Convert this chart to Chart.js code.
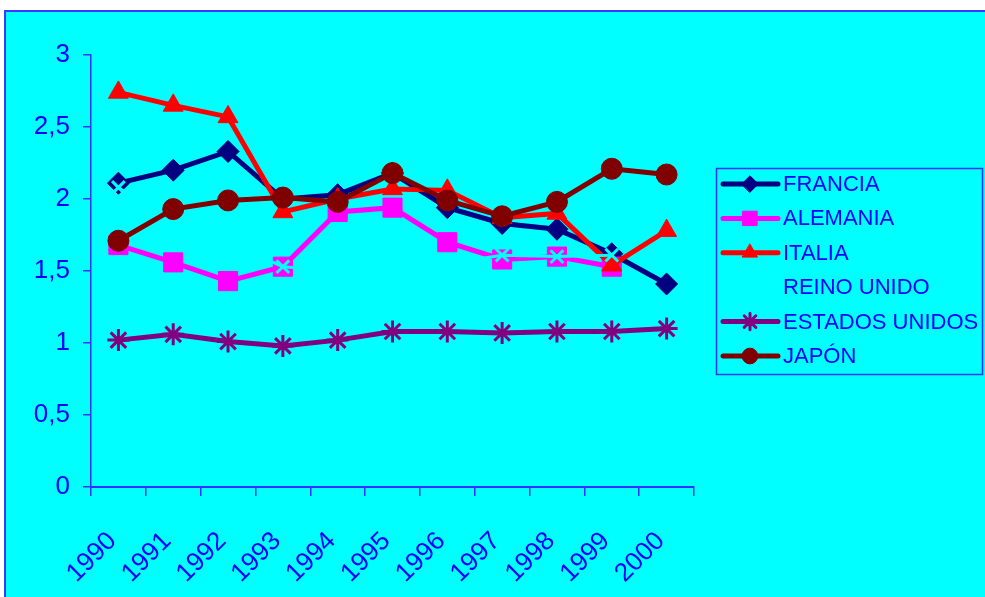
<!DOCTYPE html>
<html>
<head>
<meta charset="utf-8">
<script src="https://cdn.jsdelivr.net/npm/chart.js@4/dist/chart.umd.min.js"></script>
<style>
  html, body { margin: 0; padding: 0; background: #ffffff; }
  #wrap { width: 985px; height: 597px; }
</style>
</head>
<body>
<div id="wrap"><canvas id="c" width="985" height="597"></canvas></div>
<script>
// Years on the category axis
const years = ['1990','1991','1992','1993','1994','1995','1996','1997','1998','1999','2000'];

// Series values
const francia       = [2.11, 2.20, 2.33, 2.00, 2.03, 2.18, 1.94, 1.83, 1.79, 1.62, 1.41];
const alemania      = [1.68, 1.56, 1.43, 1.53, 1.91, 1.94, 1.70, 1.58, 1.60, 1.53, null];
const italia        = [2.74, 2.65, 2.57, 1.91, 2.00, 2.07, 2.06, 1.87, 1.90, 1.54, 1.78];
const reinoUnido    = [2.08, 1.82, 1.70, 1.53, 1.50, 1.52, 1.55, 1.61, 1.60, 1.61, null];
const estadosUnidos = [1.02, 1.06, 1.01, 0.98, 1.02, 1.08, 1.08, 1.07, 1.08, 1.08, 1.10];
const japon         = [1.71, 1.93, 1.99, 2.01, 1.98, 2.18, 1.99, 1.88, 1.98, 2.21, 2.17];

// Value axis ticks
const yTicks = [0, 0.5, 1, 1.5, 2, 2.5, 3];

const TEXT = '#0000ff';
const AXIS = '#3333ff';
const BG = '#00ffff';
const FONT = '"Liberation Sans", Arial, sans-serif';

function series(label, data, color, style, radius, order, bw) {
  return {
    label, data,
    borderColor: color,
    backgroundColor: color,
    borderWidth: 5,
    pointStyle: style,
    pointRadius: radius,
    pointHoverRadius: radius,
    pointBorderWidth: bw,
    pointBackgroundColor: color,
    pointBorderColor: color,
    tension: 0,
    spanGaps: false,
    order
  };
}

const datasets = [
  series('FRANCIA', francia, '#000080', 'rectRot', 11, 5, 1),
  series('ALEMANIA', alemania, '#ff00ff', 'rect', 13.5, 4, 1),
  series('ITALIA', italia, '#ff0000', 'triangle', 11.5, 3, 1),
  series('REINO UNIDO', reinoUnido, BG, 'crossRot', 9, 2, 3),
  series('ESTADOS UNIDOS', estadosUnidos, '#800080', 'star', 11, 1, 3),
  series('JAPÓN', japon, '#800000', 'circle', 10.5, 0, 1)
];
datasets[3].borderWidth = 3;

// Cyan sheet with a blue frame behind the plot
const frame = {
  id: 'frame',
  beforeDraw(chart) {
    const ctx = chart.ctx;
    ctx.save();
    ctx.fillStyle = '#ffffff';
    ctx.fillRect(0, 0, chart.width, chart.height);
    ctx.fillStyle = BG;
    ctx.fillRect(5, 11, chart.width, chart.height);
    ctx.fillStyle = '#3a3aff';
    ctx.fillRect(4, 10, 2, chart.height);
    ctx.fillRect(4, 10, chart.width, 2);
    ctx.restore();
  }
};

// Boxed legend with line samples on the right
const boxedLegend = {
  id: 'boxedLegend',
  afterDraw(chart) {
    const ctx = chart.ctx;
    const box = { x: 716, y: 168, w: 266, h: 206 };
    ctx.save();
    ctx.strokeStyle = AXIS;
    ctx.lineWidth = 1.5;
    ctx.strokeRect(box.x + 0.5, box.y + 0.5, box.w, box.h);
    const rowY0 = 184, rowStep = 34.4;
    chart.data.datasets.forEach((ds, i) => {
      const y = rowY0 + i * rowStep;
      ctx.strokeStyle = ds.borderColor;
      ctx.lineWidth = 5;
      ctx.lineCap = 'round';
      ctx.beginPath();
      ctx.moveTo(723, y);
      ctx.lineTo(778, y);
      ctx.stroke();
      ctx.fillStyle = ds.pointBackgroundColor;
      ctx.strokeStyle = ds.pointBorderColor;
      ctx.lineWidth = ds.pointBorderWidth;
      Chart.helpers.drawPoint(ctx, {
        pointStyle: ds.pointStyle,
        rotation: 0,
        radius: ds.pointRadius * 0.75,
        borderWidth: ds.pointBorderWidth
      }, 750, y);
      ctx.fillStyle = TEXT;
      ctx.font = '22px ' + FONT;
      ctx.textAlign = 'left';
      ctx.textBaseline = 'middle';
      ctx.fillText(ds.label, 783, y + 1);
    });
    ctx.restore();
  }
};

new Chart(document.getElementById('c'), {
  type: 'line',
  data: { labels: years, datasets },
  plugins: [frame, boxedLegend],
  options: {
    responsive: false,
    animation: false,
    events: [],
    layout: { padding: { top: 55, right: 291, bottom: 0, left: 0 } },
    plugins: { legend: { display: false }, tooltip: { enabled: false } },
    scales: {
      x: {
        offset: true,
        afterFit(scale) { scale.height = 110; },
        grid: { offset: true, drawOnChartArea: false, color: AXIS, tickLength: 9, lineWidth: 1.5 },
        border: { color: AXIS, width: 2 },
        ticks: {
          color: TEXT,
          font: { family: FONT, size: 26 },
          minRotation: 45, maxRotation: 45,
          padding: 30,
          labelOffset: -6,
          autoSkip: false
        }
      },
      y: {
        min: 0, max: 3,
        afterFit(scale) { scale.width = 91; },
        afterBuildTicks(scale) { scale.ticks = yTicks.map(v => ({ value: v })); },
        grid: { drawOnChartArea: false, color: AXIS, tickLength: 8, lineWidth: 1.5 },
        border: { color: AXIS, width: 1.5 },
        ticks: {
          color: TEXT,
          font: { family: FONT, size: 26 },
          padding: 13,
          callback: v => String(v).replace('.', ',')
        }
      }
    }
  }
});
</script>
</body>
</html>
